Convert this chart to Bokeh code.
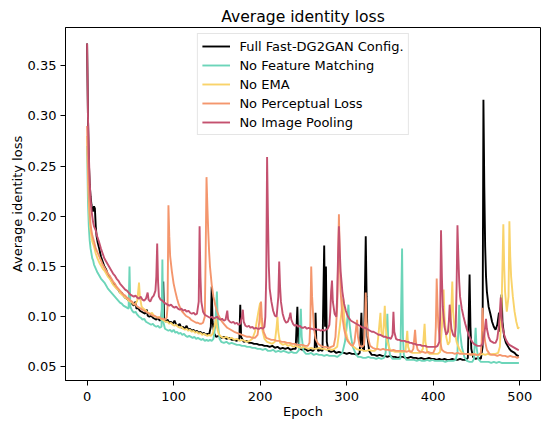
from bokeh.plotting import figure
from bokeh.models import FixedTicker, NumeralTickFormatter, Spacer
from bokeh.layouts import row, column
from bokeh.embed import file_html
from bokeh.resources import INLINE

# ---------------- data ----------------
series_names = ["Full Fast-DG2GAN Config.", "No Feature Matching", "No EMA",
                "No Perceptual Loss", "No Image Pooling"]

full_pts = [
    (0, .372), (1, .300), (2, .255), (3, .232), (4, .220), (5, .212), (6, .206), (7, .205), (8, .210), (9, .208),
    (10, .190), (11, .180), (12, .175), (14, .168), (16, .160), (18, .155), (20, .150), (22, .147), (24, .142),
    (26, .140), (28, .136), (30, .133), (32, .131), (34, .129), (36, .127), (38, .124), (40, .124), (42, .121),
    (44, .119), (46, .118), (48, .116), (50, .114), (52, .113), (54, .111), (56, .115), (57, .108), (59, .109),
    (61, .106), (63, .105), (65, .104), (67, .103), (69, .107), (70, .101), (72, .100), (74, .101), (76, .099),
    (78, .098), (80, .097), (82, .099), (84, .096), (86, .098), (88, .135), (89, .098), (91, .095), (93, .097),
    (95, .094), (97, .095), (99, .093), (101, .096), (103, .092), (105, .091), (107, .093), (109, .089),
    (111, .090), (113, .088), (115, .091), (117, .087), (119, .088), (121, .086), (123, .087), (125, .085),
    (127, .086), (129, .084), (131, .085), (133, .083), (135, .084), (137, .082), (139, .083), (141, .082),
    (143, .090), (144, .130), (145, .095), (147, .083), (149, .080), (152, .081), (155, .079), (158, .080),
    (161, .078), (164, .079), (167, .077), (170, .077), (173, .076), (176, .078), (177, .112), (178, .080),
    (181, .075), (184, .076), (187, .074), (190, .074), (193, .073), (196, .073), (199, .072), (202, .072),
    (205, .071), (208, .071), (211, .070), (214, .071), (217, .069), (220, .070), (223, .068), (226, .069),
    (229, .068), (232, .069), (235, .067), (238, .068), (241, .068), (243, .110), (244, .075), (246, .068),
    (249, .067), (252, .068), (255, .066), (258, .067), (261, .066), (263, .068), (264, .104), (265, .072),
    (267, .066), (270, .067), (272, .066), (274, .171), (275, .090), (276, .150), (277, .075), (279, .066),
    (282, .065), (285, .066), (288, .064), (291, .065), (294, .064), (297, .064), (300, .063), (303, .064),
    (306, .063), (309, .063), (312, .062), (315, .064), (317, .104), (318, .070), (320, .066), (322, .180),
    (323, .120), (324, .080), (326, .066), (329, .062), (332, .062), (335, .061), (338, .062), (341, .061),
    (344, .061), (347, .060), (350, .061), (353, .060), (356, .060), (359, .059), (362, .060), (365, .060),
    (368, .059), (371, .059), (374, .060), (377, .059), (380, .059), (383, .058), (386, .059), (389, .058),
    (392, .058), (395, .059), (398, .058), (401, .058), (404, .057), (407, .058), (410, .057), (413, .058),
    (416, .057), (419, .057), (422, .058), (425, .057), (428, .057), (431, .058), (434, .057), (437, .057),
    (440, .059), (442, .142), (443, .090), (444, .068), (446, .060), (449, .058), (452, .059), (455, .058),
    (457, .070), (458, .316), (459, .230), (460, .170), (461, .140), (462, .125), (464, .110), (466, .103),
    (468, .095), (470, .090), (472, .087), (474, .092), (476, .104), (477, .085), (479, .122), (480, .095),
    (482, .080), (484, .074), (486, .071), (488, .068), (490, .066), (492, .065), (494, .064), (496, .062),
    (498, .061), (499, .061),
]

nofm_pts = [
    (0, .270), (1, .215), (2, .190), (3, .176), (4, .168), (5, .163), (6, .158), (7, .156), (8, .152), (9, .150),
    (10, .148), (12, .144), (14, .141), (16, .138), (18, .136), (20, .134), (22, .131), (24, .128), (26, .126),
    (28, .124), (30, .122), (32, .120), (34, .118), (36, .116), (38, .114), (40, .113), (42, .111), (44, .110),
    (46, .109), (48, .108), (49, .150), (50, .110), (52, .106), (54, .104), (56, .105), (58, .102), (60, .100),
    (62, .099), (64, .097), (66, .098), (68, .095), (70, .094), (72, .093), (74, .092), (76, .093), (78, .091),
    (80, .090), (82, .091), (84, .089), (86, .090), (87, .157), (88, .095), (90, .088), (92, .087), (94, .086),
    (96, .087), (98, .085), (100, .087), (102, .084), (104, .085), (106, .083), (108, .084), (110, .082),
    (112, .083), (114, .081), (116, .080), (118, .081), (120, .080), (122, .079), (124, .080), (126, .078),
    (128, .079), (130, .078), (132, .077), (134, .078), (136, .076), (138, .077), (140, .076), (142, .077),
    (144, .076), (146, .078), (148, .090), (150, .125), (151, .095), (153, .078), (155, .075), (158, .074),
    (161, .075), (164, .073), (167, .074), (170, .073), (173, .072), (176, .072), (179, .071), (182, .071),
    (185, .070), (188, .070), (191, .069), (194, .069), (197, .068), (200, .068), (203, .067), (206, .068),
    (209, .066), (212, .066), (215, .067), (218, .065), (221, .066), (224, .065), (227, .066), (230, .065),
    (233, .064), (236, .065), (239, .064), (242, .064), (245, .067), (247, .108), (248, .080), (250, .066),
    (253, .063), (256, .063), (259, .064), (262, .062), (265, .063), (268, .062), (271, .062), (274, .061),
    (277, .062), (280, .061), (283, .061), (286, .061), (289, .060), (292, .062), (295, .064), (298, .075),
    (300, .090), (302, .112), (303, .095), (305, .080), (307, .070), (310, .064), (313, .060), (316, .060),
    (319, .059), (322, .059), (325, .060), (328, .059), (331, .059), (334, .058), (337, .059), (340, .058),
    (343, .059), (345, .064), (347, .103), (348, .075), (350, .062), (353, .058), (356, .058), (359, .058),
    (362, .058), (364, .168), (365, .080), (366, .062), (369, .057), (372, .057), (375, .057), (378, .057),
    (381, .056), (384, .057), (387, .056), (390, .056), (393, .057), (396, .056), (399, .057), (402, .056),
    (405, .056), (408, .056), (411, .056), (414, .055), (417, .056), (420, .056), (423, .056), (426, .057),
    (428, .065), (430, .112), (431, .085), (433, .070), (436, .060), (439, .056), (442, .055), (445, .055),
    (447, .058), (449, .089), (450, .070), (452, .058), (455, .055), (458, .055), (461, .055), (464, .055),
    (467, .054), (470, .055), (473, .054), (476, .055), (479, .054), (482, .054), (485, .054), (488, .054),
    (491, .054), (494, .054), (497, .054), (499, .054),
]

noema_pts = [
    (0, .280), (1, .240), (2, .212), (3, .196), (4, .186), (5, .180), (6, .175), (8, .170), (10, .163),
    (12, .158), (14, .154), (16, .151), (18, .148), (20, .146), (22, .143), (24, .140), (26, .138), (28, .135),
    (30, .132), (32, .130), (34, .128), (36, .127), (38, .124), (40, .122), (42, .121), (44, .119), (46, .118),
    (48, .116), (50, .115), (52, .114), (54, .112), (56, .113), (58, .116), (60, .134), (61, .120), (63, .110),
    (65, .108), (67, .107), (69, .105), (71, .104), (73, .103), (75, .104), (77, .101), (79, .100), (81, .099),
    (83, .100), (85, .098), (87, .097), (89, .096), (91, .095), (93, .095), (95, .093), (97, .094), (99, .092),
    (101, .091), (103, .092), (105, .090), (107, .089), (109, .090), (111, .088), (113, .087), (115, .088),
    (117, .086), (119, .087), (121, .085), (123, .086), (125, .084), (127, .085), (129, .083), (131, .084),
    (133, .082), (135, .083), (137, .082), (139, .081), (141, .082), (143, .081), (145, .083), (147, .090),
    (149, .098), (150, .090), (152, .083), (155, .080), (158, .079), (161, .080), (164, .078), (167, .079),
    (170, .077), (173, .078), (176, .076), (179, .077), (182, .076), (185, .075), (188, .076), (191, .078),
    (194, .085), (196, .095), (198, .105), (200, .114), (201, .095), (203, .085), (205, .078), (208, .075),
    (211, .074), (214, .073), (217, .075), (219, .090), (220, .100), (221, .085), (223, .074), (226, .072),
    (229, .073), (232, .071), (235, .072), (238, .070), (241, .071), (244, .070), (247, .069), (250, .070),
    (253, .069), (256, .068), (259, .069), (262, .068), (265, .068), (268, .069), (271, .068), (274, .068),
    (277, .067), (280, .068), (283, .067), (286, .068), (289, .070), (292, .090), (294, .105), (296, .118),
    (297, .100), (299, .085), (301, .078), (303, .074), (305, .072), (308, .070), (311, .068), (314, .067),
    (317, .067), (320, .066), (323, .066), (326, .067), (329, .066), (332, .066), (335, .068), (337, .085),
    (339, .104), (340, .085), (342, .080), (344, .111), (345, .090), (347, .075), (350, .067), (353, .066),
    (356, .065), (359, .065), (362, .065), (365, .065), (368, .066), (370, .086), (371, .070), (373, .065),
    (376, .064), (379, .064), (382, .064), (385, .064), (388, .068), (390, .093), (391, .075), (393, .065),
    (396, .063), (399, .063), (402, .063), (405, .063), (408, .065), (410, .090), (412, .127), (413, .100),
    (415, .080), (417, .072), (419, .075), (421, .110), (422, .135), (423, .105), (425, .085), (427, .075),
    (430, .068), (433, .064), (436, .063), (439, .063), (442, .063), (445, .062), (448, .063), (451, .062),
    (454, .062), (457, .063), (460, .062), (463, .063), (466, .062), (469, .063), (472, .063), (475, .064),
    (477, .070), (479, .110), (481, .192), (482, .150), (483, .125), (485, .105), (487, .120), (488, .195),
    (489, .160), (490, .140), (492, .120), (494, .105), (496, .095), (498, .088), (499, .090),
]

nopl_pts = [
    (0, .290), (1, .250), (2, .222), (3, .204), (4, .192), (5, .186), (6, .181), (8, .175), (10, .168),
    (12, .164), (14, .160), (16, .156), (18, .152), (20, .149), (22, .146), (24, .143), (26, .141), (28, .138),
    (30, .135), (32, .133), (34, .130), (36, .128), (38, .126), (40, .124), (42, .122), (44, .121), (46, .119),
    (48, .118), (50, .116), (52, .115), (54, .113), (56, .112), (58, .110), (60, .109), (62, .108), (64, .107),
    (66, .106), (68, .105), (70, .104), (72, .103), (74, .102), (76, .101), (78, .101), (80, .100), (82, .099),
    (84, .099), (86, .098), (88, .098), (90, .097), (92, .099), (93, .110), (94, .211), (95, .180), (96, .160),
    (98, .145), (100, .133), (102, .125), (104, .118), (106, .112), (108, .108), (110, .105), (112, .103),
    (114, .101), (116, .100), (118, .099), (120, .097), (122, .096), (124, .095), (126, .094), (128, .094),
    (130, .093), (132, .093), (134, .094), (136, .100), (137, .160), (138, .239), (139, .210), (140, .185),
    (141, .165), (142, .150), (144, .132), (146, .120), (148, .112), (150, .106), (152, .101), (154, .098),
    (156, .095), (158, .093), (160, .091), (162, .089), (164, .088), (166, .087), (168, .086), (170, .085),
    (173, .084), (176, .083), (179, .082), (182, .081), (185, .080), (188, .080), (191, .079), (194, .079),
    (197, .082), (199, .095), (201, .115), (202, .098), (204, .085), (207, .079), (210, .078), (213, .077),
    (216, .077), (219, .076), (222, .076), (225, .075), (228, .075), (231, .074), (234, .074), (237, .073),
    (240, .073), (243, .072), (246, .072), (249, .072), (252, .071), (255, .071), (257, .074), (258, .095),
    (259, .150), (260, .120), (262, .090), (264, .078), (267, .073), (270, .071), (273, .070), (276, .070),
    (279, .069), (282, .070), (285, .071), (287, .080), (289, .110), (290, .150), (291, .202), (292, .160),
    (293, .125), (295, .100), (297, .088), (299, .080), (301, .076), (303, .074), (305, .072), (307, .071),
    (309, .075), (311, .090), (312, .097), (313, .080), (315, .071), (318, .070), (320, .072), (321, .090),
    (322, .124), (323, .095), (325, .078), (327, .071), (330, .069), (333, .068), (336, .068), (339, .067),
    (342, .068), (345, .067), (348, .067), (351, .066), (354, .067), (357, .066), (360, .066), (363, .066),
    (366, .066), (369, .065), (372, .066), (375, .065), (377, .068), (379, .087), (380, .075), (382, .067),
    (385, .065), (388, .065), (391, .064), (394, .065), (397, .064), (400, .064), (402, .068), (403, .090),
    (404, .138), (405, .110), (406, .090), (408, .075), (410, .067), (413, .065), (416, .064), (419, .064),
    (422, .064), (425, .063), (428, .064), (431, .063), (434, .063), (437, .063), (440, .063), (443, .062),
    (446, .063), (449, .062), (452, .062), (455, .064), (456, .075), (457, .109), (458, .090), (460, .075),
    (462, .067), (465, .063), (468, .062), (471, .062), (474, .061), (477, .062), (480, .061), (483, .061),
    (486, .060), (489, .061), (492, .060), (495, .060), (497, .059), (499, .060),
]

noip_pts = [
    (0, .372), (1, .300), (2, .262), (3, .235), (4, .218), (5, .207), (6, .200), (7, .194), (8, .190),
    (9, .188), (10, .186), (11, .182), (12, .179), (14, .174), (16, .168), (18, .163), (20, .158), (22, .155),
    (24, .152), (26, .149), (28, .146), (30, .143), (32, .141), (34, .138), (36, .136), (38, .133), (40, .131),
    (42, .129), (44, .127), (46, .126), (48, .124), (50, .122), (52, .121), (54, .120), (56, .121), (58, .119),
    (60, .118), (62, .120), (64, .117), (66, .116), (68, .118), (70, .124), (71, .117), (73, .115), (75, .119),
    (77, .121), (79, .126), (80, .140), (81, .173), (82, .135), (83, .120), (85, .117), (87, .116), (89, .114),
    (91, .113), (93, .112), (95, .111), (97, .112), (99, .110), (101, .109), (103, .110), (105, .108),
    (107, .107), (109, .108), (111, .106), (113, .107), (115, .105), (117, .106), (119, .104), (121, .103),
    (123, .104), (125, .102), (127, .103), (129, .115), (130, .190), (131, .140), (132, .115), (134, .105),
    (136, .102), (138, .101), (140, .100), (142, .099), (144, .100), (146, .098), (148, .099), (150, .100),
    (152, .098), (154, .097), (156, .098), (158, .096), (160, .097), (162, .106), (163, .097), (165, .095),
    (167, .094), (169, .095), (171, .093), (173, .094), (175, .092), (177, .093), (179, .100), (180, .107),
    (181, .095), (183, .091), (185, .090), (187, .091), (189, .089), (191, .090), (193, .088), (195, .089),
    (197, .088), (199, .088), (201, .089), (203, .088), (205, .090), (206, .100), (207, .140), (208, .259),
    (209, .200), (210, .150), (211, .128), (213, .115), (215, .106), (217, .101), (219, .100), (221, .120),
    (222, .155), (223, .130), (224, .115), (226, .103), (228, .097), (230, .094), (232, .095), (234, .100),
    (235, .104), (236, .097), (238, .093), (240, .091), (242, .092), (244, .090), (246, .091), (248, .089),
    (250, .089), (252, .090), (254, .088), (256, .089), (258, .088), (260, .088), (262, .087), (264, .088),
    (266, .087), (268, .087), (270, .086), (272, .087), (274, .086), (276, .087), (278, .088), (280, .092),
    (281, .105), (282, .125), (283, .136), (284, .115), (286, .103), (288, .100), (289, .120), (290, .160),
    (291, .190), (292, .165), (293, .145), (295, .125), (297, .113), (299, .106), (301, .101), (303, .098),
    (305, .096), (307, .095), (309, .094), (311, .093), (313, .092), (315, .091), (317, .090), (319, .089),
    (321, .089), (323, .088), (325, .087), (327, .086), (329, .085), (331, .085), (333, .084), (335, .083),
    (337, .082), (339, .082), (341, .081), (343, .080), (345, .080), (347, .079), (349, .079), (351, .078),
    (353, .082), (354, .105), (355, .085), (357, .078), (359, .077), (361, .077), (363, .076), (365, .076),
    (367, .076), (369, .075), (371, .075), (373, .074), (375, .074), (377, .073), (379, .073), (381, .072),
    (383, .072), (385, .072), (387, .071), (389, .071), (391, .071), (393, .070), (395, .070), (397, .070),
    (399, .070), (401, .070), (403, .070), (405, .071), (407, .075), (408, .100), (409, .186), (410, .140),
    (411, .110), (413, .090), (415, .082), (417, .085), (418, .095), (419, .112), (420, .098), (421, .088),
    (423, .082), (425, .080), (426, .090), (427, .130), (428, .191), (429, .160), (430, .135), (431, .120),
    (433, .108), (435, .100), (437, .093), (439, .087), (441, .082), (443, .078), (445, .075), (447, .073),
    (449, .072), (451, .071), (453, .071), (455, .071), (457, .073), (459, .082), (460, .090), (461, .098),
    (462, .088), (464, .080), (466, .076), (468, .075), (470, .074), (472, .074), (474, .078), (476, .092),
    (477, .105), (478, .119), (479, .100), (480, .090), (482, .082), (484, .077), (486, .074), (488, .072),
    (490, .071), (492, .070), (494, .069), (496, .068), (498, .067), (499, .067),
]

x_ticks = [0, 100, 200, 300, 400, 500]
y_ticks = [0.05, 0.10, 0.15, 0.20, 0.25, 0.30, 0.35]

colors = ["#000000", "#6cd5b9", "#f9d36a", "#f4966d", "#c4516f"]
all_series = [full_pts, nofm_pts, noema_pts, nopl_pts, noip_pts]

# ---------------- figure ----------------
FONT = "DejaVu Sans"
p = figure(frame_width=475, frame_height=353, output_backend="svg", toolbar_location=None,
           x_range=(-24.95, 523.95), y_range=(0.0365, 0.388),
           min_border_left=0, min_border_right=2, min_border_top=0, min_border_bottom=0,
           title="Average identity loss")

p.title.text_font = FONT
p.title.text_font_size = "15.6px"
p.title.text_font_style = "normal"
p.title.align = "center"
p.title.text_color = "black"
p.title.standoff = 3

for name, pts, col in zip(series_names, all_series, colors):
    xs = [a for a, _ in pts]
    ys = [b for _, b in pts]
    p.line(xs, ys, line_color=col, line_width=1.9, legend_label=name)

p.grid.visible = False
p.outline_line_color = "black"
p.outline_line_width = 1
p.outline_line_alpha = 1

p.xaxis.ticker = FixedTicker(ticks=x_ticks)
p.yaxis.ticker = FixedTicker(ticks=y_ticks)
p.yaxis.formatter = NumeralTickFormatter(format="0.00")
p.xaxis.axis_label = "Epoch"
p.yaxis.axis_label = "Average identity loss"
for ax in (p.xaxis, p.yaxis):
    ax.major_tick_out = 5
    ax.major_tick_in = 0
    ax.minor_tick_line_color = None
    ax.axis_line_color = "black"
    ax.major_tick_line_color = "black"
    ax.major_label_text_font = FONT
    ax.major_label_text_font_size = "13px"
    ax.major_label_text_color = "black"
    ax.axis_label_text_font = FONT
    ax.axis_label_text_font_size = "13px"
    ax.axis_label_text_font_style = "normal"
    ax.axis_label_text_color = "black"
p.yaxis.major_label_standoff = 4
p.yaxis.axis_label_standoff = 0
p.xaxis.major_label_standoff = 6
p.xaxis.axis_label_standoff = 0

lg = p.legend[0]
lg.location = "top_center"
lg.margin = 6
lg.padding = 4
lg.spacing = 3
lg.glyph_width = 28
lg.glyph_height = 16
lg.label_height = 16
lg.label_standoff = 10
lg.label_text_font = FONT
lg.label_text_font_size = "13px"
lg.label_text_color = "black"
lg.border_line_color = "#cccccc"
lg.border_line_width = 1
lg.background_fill_alpha = 0.8

layout = column(Spacer(height=4), row(Spacer(width=6), p))
open("out.html", "w").write(file_html(layout, INLINE))
